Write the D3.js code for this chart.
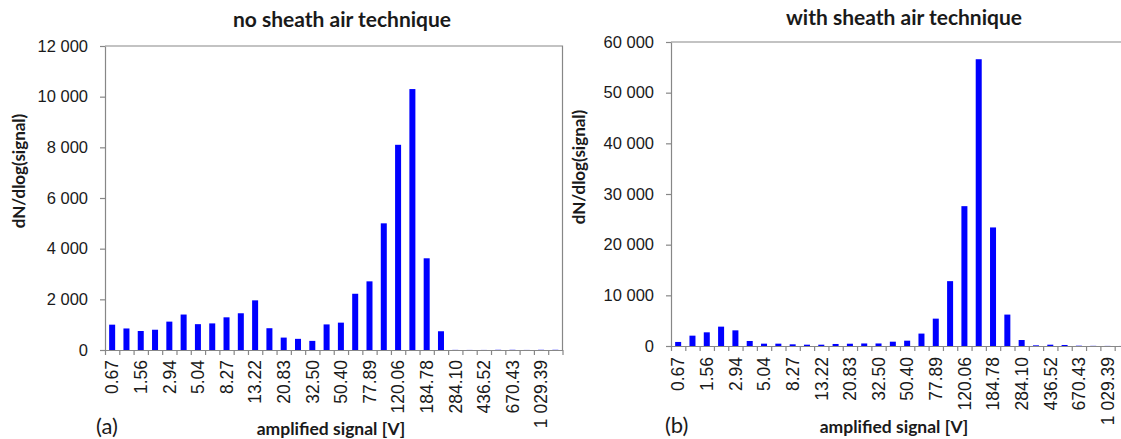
<!DOCTYPE html>
<html>
<head>
<meta charset="utf-8">
<script src="https://cdn.jsdelivr.net/npm/d3@7"></script>
<style>
  html, body { margin: 0; padding: 0; background: #fff; }
  svg { display: block; font-family: Lato, "Open Sans", sans-serif; }
</style>
</head>
<body>
<svg id="chart" width="1121" height="439"></svg>
<script>
// Amplified-signal bins: 32 per panel, every second bin carries a tick label.
const binIndex = d3.range(32);
const signalTickLabels = ["0.67", "1.56", "2.94", "5.04", "8.27", "13.22", "20.83", "32.50",
  "50.40", "77.89", "120.06", "184.78", "284.10", "436.52", "670.43", "1 029.39"];

// dN/dlog(signal) per bin
const noSheathCounts = [1000, 850, 750, 800, 1120, 1400, 1020, 1050, 1290, 1450, 1960, 860,
  490, 440, 360, 1010, 1080, 2220, 2710, 5000, 8100, 10300, 3620, 740,
  5, 3, 3, 8, 8, 3, 8, 8];
const withSheathCounts = [800, 2040, 2700, 3820, 3090, 990, 460, 460, 330, 260, 260, 400,
  450, 500, 500, 850, 1050, 2450, 5400, 12800, 27600, 56600, 23400, 6200,
  1180, 130, 260, 200, 60, 30, 20, 10];

const noSheathTicks = [0, 2000, 4000, 6000, 8000, 10000, 12000];
const withSheathTicks = [0, 10000, 20000, 30000, 40000, 50000, 60000];

const panelTitles = ["no sheath air technique", "with sheath air technique"];
const panelTags = ["(a)", "(b)"];
const xAxisTitle = "amplified signal [V]";
const yAxisTitle = "dN/dlog(signal)";

const svg = d3.select("#chart");
const axisGrey = "#878787";
const textColor = "#1a1a1a";
const barColor = "#0000ff";
const groupFmt = v => d3.format(",")(v).replace(/,/g, " ");

function drawPanel(p) {
  const g = svg.append("g");
  const x = d3.scaleBand().domain(binIndex).range([p.left, p.right])
    .paddingInner(0.58).paddingOuter(0.29);
  const edges = d3.scaleLinear().domain([0, binIndex.length]).range([p.left, p.right]);
  const y = d3.scaleLinear().domain([0, p.ticks[p.ticks.length - 1]]).range([p.bottom, p.top]);

  // plot-area frame (top and right edges)
  g.append("path")
    .attr("d", `M${p.left},${p.top}H${p.right}V${p.bottom}`)
    .attr("fill", "none").attr("stroke", axisGrey).attr("stroke-width", 1.2);

  // bars
  g.append("g").selectAll("rect").data(p.values).join("rect")
    .attr("x", (d, i) => x(i))
    .attr("width", x.bandwidth())
    .attr("y", d => y(d))
    .attr("height", d => y(0) - y(d))
    .attr("fill", barColor);

  // y axis
  const ya = g.append("g").attr("transform", `translate(${p.left},0)`)
    .call(d3.axisLeft(y).tickValues(p.ticks).tickFormat(groupFmt)
      .tickSize(5).tickSizeOuter(0).tickPadding(12));
  ya.selectAll("path,line").attr("stroke", axisGrey).attr("stroke-width", 1.2);
  ya.selectAll("text").attr("font-size", 16.5).attr("fill", textColor);

  // x axis: tick marks between bins
  const xe = g.append("g").attr("transform", `translate(0,${p.bottom})`)
    .call(d3.axisBottom(edges).tickValues(d3.range(binIndex.length + 1))
      .tickFormat("").tickSize(5).tickSizeOuter(0));
  xe.selectAll("path,line").attr("stroke", axisGrey).attr("stroke-width", 1.2);

  // x axis: rotated labels on every second bin
  const xl = g.append("g").attr("transform", `translate(0,${p.bottom})`)
    .call(d3.axisBottom(x).tickValues(binIndex.filter(i => i % 2 === 0))
      .tickFormat(i => signalTickLabels[i / 2]).tickSize(0).tickSizeOuter(0));
  xl.select(".domain").remove();
  xl.selectAll("text")
    .attr("font-size", 17.5).attr("fill", textColor)
    .attr("text-anchor", "end")
    .attr("transform", "rotate(-90)")
    .attr("x", -p.labelGap).attr("y", 0).attr("dy", "0.36em");

  // titles
  g.append("text").attr("x", p.titleX).attr("y", p.titleY)
    .attr("text-anchor", "middle").attr("font-weight", "bold").attr("font-size", 21)
    .attr("fill", textColor).text(p.title);
  g.append("text").attr("x", p.xTitleX).attr("y", p.xTitleY)
    .attr("text-anchor", "middle").attr("font-weight", "bold").attr("font-size", 17.5)
    .attr("fill", textColor).text(xAxisTitle);
  g.append("text")
    .attr("transform", `translate(${p.yTitleX},${p.yTitleY}) rotate(-90)`)
    .attr("text-anchor", "middle").attr("dy", "0.35em")
    .attr("font-weight", "bold").attr("font-size", 17)
    .attr("fill", textColor).text(yAxisTitle);
  g.append("text").attr("x", p.tagX).attr("y", p.tagY)
    .attr("font-size", 22).attr("fill", textColor).text(p.tag);
}

drawPanel({
  left: 105, right: 562.5, top: 46, bottom: 350,
  values: noSheathCounts, ticks: noSheathTicks, labelGap: 10,
  title: panelTitles[0], titleX: 342, titleY: 27,
  xTitleX: 331, xTitleY: 435, yTitleX: 19, yTitleY: 171,
  tag: panelTags[0], tagX: 96, tagY: 434
});

drawPanel({
  left: 671, right: 1129, top: 42, bottom: 346,
  values: withSheathCounts, ticks: withSheathTicks, labelGap: 11,
  title: panelTitles[1], titleX: 904, titleY: 25,
  xTitleX: 894, xTitleY: 433, yTitleX: 579, yTitleY: 167,
  tag: panelTags[1], tagX: 665, tagY: 433
});
</script>
</body>
</html>
